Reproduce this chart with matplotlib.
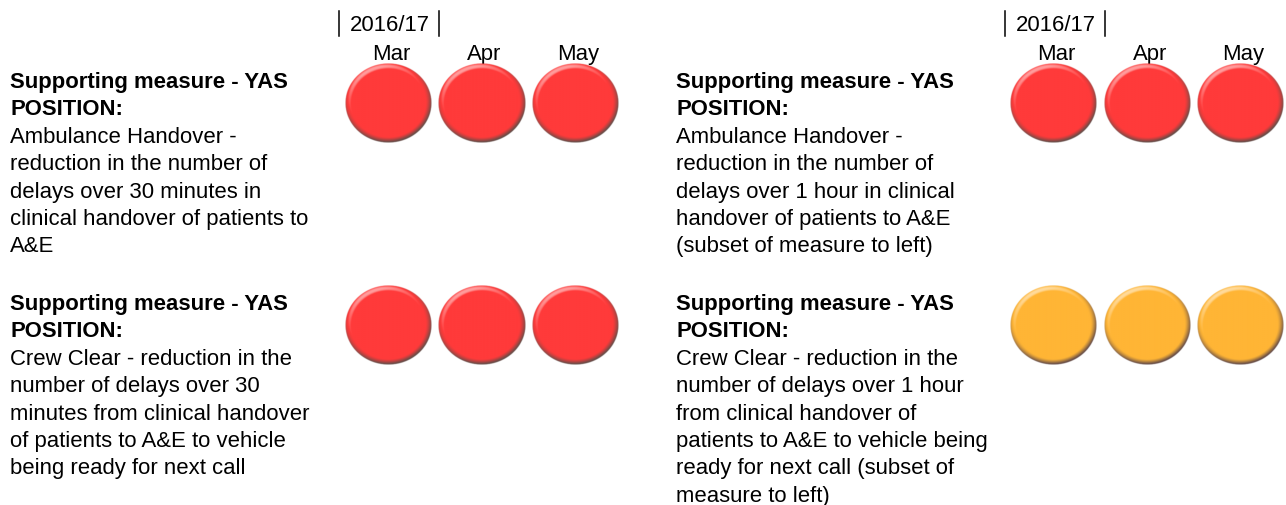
import numpy as np
import matplotlib
matplotlib.use('Agg')
import matplotlib.pyplot as plt
from matplotlib.colors import to_rgb

# --- data -----------------------------------------------------------------
year_label = '2016/17'
months = ['Mar', 'Apr', 'May']
heading = ['Supporting measure - YAS', 'POSITION:']

# measure descriptions, wrapped as in the source report
desc_handover_30 = ['Ambulance Handover -', 'reduction in the number of',
                    'delays over 30 minutes in', 'clinical handover of patients to',
                    'A&E']
desc_handover_60 = ['Ambulance Handover -', 'reduction in the number of',
                    'delays over 1 hour in clinical', 'handover of patients to A&E',
                    '(subset of measure to left)']
desc_crew_30 = ['Crew Clear - reduction in the', 'number of delays over 30',
                'minutes from clinical handover', 'of patients to A&E to vehicle',
                'being ready for next call']
desc_crew_60 = ['Crew Clear - reduction in the', 'number of delays over 1 hour',
                'from clinical handover of', 'patients to A&E to vehicle being',
                'ready for next call (subset of', 'measure to left)']

status_handover_30 = ['red', 'red', 'red']
status_handover_60 = ['red', 'red', 'red']
status_crew_30 = ['red', 'red', 'red']
status_crew_60 = ['amber', 'amber', 'amber']

rag_colours = {'red': '#ff3a3a', 'amber': '#ffb535'}

# --- layout (pixel coordinates, y down) --------------------------------------
W, H = 1286, 506
FS = 15.95                # ~22px Arial
LINE = 27.4               # line pitch in px
text_x = [10, 676]        # left / right panel text column
dot_x0 = [388, 1053.5]    # first circle centre per panel
dot_step = 93.5
row_y = [80, 302]         # centre of first text line per row
rx, ry = 43.5, 40

panels = [
    [(desc_handover_30, status_handover_30), (desc_handover_60, status_handover_60)],
    [(desc_crew_30, status_crew_30), (desc_crew_60, status_crew_60)],
]


def bevel_image(colour, n=200):
    """Button-like circle with a thin rounded bevel, lit from the top left."""
    base = np.array(to_rgb(colour))
    v, u = np.mgrid[-1:1:n * 1j, -1:1:n * 1j]
    r = np.hypot(u, v)
    rs = np.where(r > 0, r, 1)
    t = np.clip((r - 0.86) / 0.14, 0, 1)
    theta = t * np.radians(88)
    nx = (u / rs) * np.sin(theta)
    ny = (-v / rs) * np.sin(theta)
    nz = np.cos(theta)
    L = np.array([-0.35, 0.75, 0.9])
    L = L / np.linalg.norm(L)
    rel = (nx * L[0] + ny * L[1] + nz * L[2]) / L[2]
    hi = np.clip((rel - 1) * 1.5, 0, 0.5)[..., None]
    lo = np.clip(0.35 + 0.65 * rel, 0, 1)[..., None]
    shade = np.array([0.40, 0.30, 0.28])
    dark = shade * (1 - lo) + base * lo
    light = base + (1 - base) * hi
    rgb = np.where((rel > 1)[..., None], light, dark)
    alpha = np.clip((1 - r) * 70, 0, 1)
    return np.dstack([rgb, alpha])


fig = plt.figure(figsize=(W / 100, H / 100), dpi=100)
ax = fig.add_axes([0, 0, 1, 1])
ax.set_xlim(0, W)
ax.set_ylim(H, 0)
ax.set_aspect('auto')
ax.axis('off')

font = ['Liberation Sans', 'Arial', 'DejaVu Sans']
base_off = 0.36 * FS / 0.72   # caps centre -> baseline

# header per panel
for p in range(2):
    x0 = dot_x0[p]
    bar_l, bar_r = x0 - 49, x0 + 51
    ax.plot([bar_l, bar_l], [12, 37], color='black', lw=1.1)
    ax.plot([bar_r, bar_r], [12, 37], color='black', lw=1.1)
    ax.text(bar_l + 11, 23 + base_off, year_label, fontsize=FS, family=font,
            ha='left', va='baseline')
    for i, m in enumerate(months):
        ax.text(x0 + i * dot_step + 3, 52 + base_off, m, fontsize=FS,
                family=font, ha='center', va='baseline')

# rows of measures with RAG dots
for ri, row in enumerate(panels):
    for p, (desc, status) in enumerate(row):
        y = row_y[ri]
        lines = heading + desc
        for k, line in enumerate(lines):
            ax.text(text_x[p], y + k * LINE + base_off, line, fontsize=FS,
                    family=font, ha='left', va='baseline',
                    fontweight='bold' if k < len(heading) else 'normal')
        cy = y + 24
        for i, s in enumerate(status):
            cx = dot_x0[p] + i * dot_step
            ax.imshow(bevel_image(rag_colours[s]),
                      extent=(cx - rx, cx + rx, cy + ry, cy - ry),
                      interpolation='bilinear', zorder=3)

ax.set_xlim(0, W)
ax.set_ylim(H, 0)
fig.savefig('out.png', dpi=100)
